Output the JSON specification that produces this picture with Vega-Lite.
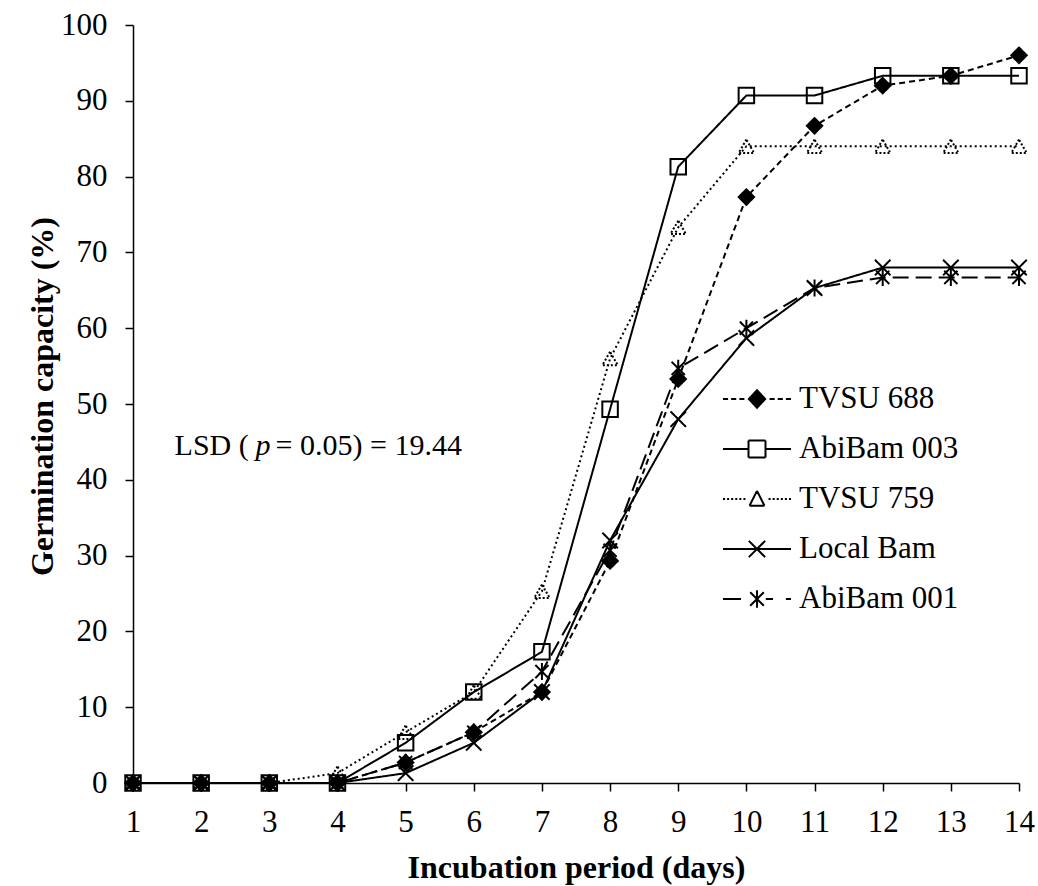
{
  "$schema": "https://vega.github.io/schema/vega-lite/v6.json",
  "width": 886,
  "height": 758,
  "autosize": {"type": "none"},
  "padding": {"left": 133, "top": 25, "right": 19, "bottom": 103},
  "background": "white",
  "config": {
    "font": "Liberation Serif",
    "view": {"stroke": null},
    "axis": {
      "grid": false,
      "domainColor": "black",
      "domainWidth": 1.5,
      "tickColor": "black",
      "tickWidth": 1.5,
      "tickSize": 8,
      "labelColor": "black",
      "labelFont": "Liberation Serif",
      "labelFontSize": 31,
      "titleColor": "black",
      "titleFont": "Liberation Serif",
      "titleFontSize": 32,
      "titleFontWeight": "bold",
      "labelFlush": false,
      "labelOverlap": false
    }
  },
  "data": {
    "values": [
      {"series": "TVSU 688", "day": 1, "value": 0},
      {"series": "TVSU 688", "day": 2, "value": 0},
      {"series": "TVSU 688", "day": 3, "value": 0},
      {"series": "TVSU 688", "day": 4, "value": 0},
      {"series": "TVSU 688", "day": 5, "value": 2.7},
      {"series": "TVSU 688", "day": 6, "value": 6.7},
      {"series": "TVSU 688", "day": 7, "value": 12},
      {"series": "TVSU 688", "day": 8, "value": 29.3},
      {"series": "TVSU 688", "day": 9, "value": 53.3},
      {"series": "TVSU 688", "day": 10, "value": 77.3},
      {"series": "TVSU 688", "day": 11, "value": 86.7},
      {"series": "TVSU 688", "day": 12, "value": 92},
      {"series": "TVSU 688", "day": 13, "value": 93.3},
      {"series": "TVSU 688", "day": 14, "value": 96},
      {"series": "AbiBam 003", "day": 1, "value": 0},
      {"series": "AbiBam 003", "day": 2, "value": 0},
      {"series": "AbiBam 003", "day": 3, "value": 0},
      {"series": "AbiBam 003", "day": 4, "value": 0},
      {"series": "AbiBam 003", "day": 5, "value": 5.3},
      {"series": "AbiBam 003", "day": 6, "value": 12},
      {"series": "AbiBam 003", "day": 7, "value": 17.3},
      {"series": "AbiBam 003", "day": 8, "value": 49.3},
      {"series": "AbiBam 003", "day": 9, "value": 81.3},
      {"series": "AbiBam 003", "day": 10, "value": 90.7},
      {"series": "AbiBam 003", "day": 11, "value": 90.7},
      {"series": "AbiBam 003", "day": 12, "value": 93.3},
      {"series": "AbiBam 003", "day": 13, "value": 93.3},
      {"series": "AbiBam 003", "day": 14, "value": 93.3},
      {"series": "TVSU 759", "day": 1, "value": 0},
      {"series": "TVSU 759", "day": 2, "value": 0},
      {"series": "TVSU 759", "day": 3, "value": 0},
      {"series": "TVSU 759", "day": 4, "value": 1.3},
      {"series": "TVSU 759", "day": 5, "value": 6.7},
      {"series": "TVSU 759", "day": 6, "value": 12},
      {"series": "TVSU 759", "day": 7, "value": 25.3},
      {"series": "TVSU 759", "day": 8, "value": 56},
      {"series": "TVSU 759", "day": 9, "value": 73.3},
      {"series": "TVSU 759", "day": 10, "value": 84},
      {"series": "TVSU 759", "day": 11, "value": 84},
      {"series": "TVSU 759", "day": 12, "value": 84},
      {"series": "TVSU 759", "day": 13, "value": 84},
      {"series": "TVSU 759", "day": 14, "value": 84},
      {"series": "Local Bam", "day": 1, "value": 0},
      {"series": "Local Bam", "day": 2, "value": 0},
      {"series": "Local Bam", "day": 3, "value": 0},
      {"series": "Local Bam", "day": 4, "value": 0},
      {"series": "Local Bam", "day": 5, "value": 1.3},
      {"series": "Local Bam", "day": 6, "value": 5.3},
      {"series": "Local Bam", "day": 7, "value": 12},
      {"series": "Local Bam", "day": 8, "value": 32},
      {"series": "Local Bam", "day": 9, "value": 48},
      {"series": "Local Bam", "day": 10, "value": 58.7},
      {"series": "Local Bam", "day": 11, "value": 65.3},
      {"series": "Local Bam", "day": 12, "value": 68},
      {"series": "Local Bam", "day": 13, "value": 68},
      {"series": "Local Bam", "day": 14, "value": 68},
      {"series": "AbiBam 001", "day": 1, "value": 0},
      {"series": "AbiBam 001", "day": 2, "value": 0},
      {"series": "AbiBam 001", "day": 3, "value": 0},
      {"series": "AbiBam 001", "day": 4, "value": 0},
      {"series": "AbiBam 001", "day": 5, "value": 2.7},
      {"series": "AbiBam 001", "day": 6, "value": 6.7},
      {"series": "AbiBam 001", "day": 7, "value": 14.7},
      {"series": "AbiBam 001", "day": 8, "value": 30.7},
      {"series": "AbiBam 001", "day": 9, "value": 54.7},
      {"series": "AbiBam 001", "day": 10, "value": 60},
      {"series": "AbiBam 001", "day": 11, "value": 65.3},
      {"series": "AbiBam 001", "day": 12, "value": 66.7},
      {"series": "AbiBam 001", "day": 13, "value": 66.7},
      {"series": "AbiBam 001", "day": 14, "value": 66.7}
    ]
  },
  "layer": [
    {
      "mark": {"type": "line", "stroke": "black", "strokeWidth": 2},
      "encoding": {
        "x": {
          "field": "day",
          "type": "quantitative",
          "scale": {"domain": [1, 14], "nice": false, "zero": false},
          "axis": {
            "values": [1, 2, 3, 4, 5, 6, 7, 8, 9, 10, 11, 12, 13, 14],
            "format": "d",
            "title": "Incubation period (days)",
            "labelBaseline": "alphabetic",
            "labelPadding": 40,
            "titleBaseline": "alphabetic",
            "titleY": 94
          }
        },
        "y": {
          "field": "value",
          "type": "quantitative",
          "scale": {"domain": [0, 100], "nice": false},
          "axis": {
            "values": [0, 10, 20, 30, 40, 50, 60, 70, 80, 90, 100],
            "format": "d",
            "title": "Germination capacity (%)",
            "labelPadding": 18,
            "labelBaseline": "middle",
            "titleAngle": -90,
            "titleBaseline": "alphabetic",
            "titleX": -81,
            "titleY": 371
          }
        },
        "detail": {"field": "series"},
        "strokeDash": {
          "field": "series",
          "type": "nominal",
          "scale": {
            "domain": ["TVSU 688", "AbiBam 003", "TVSU 759", "Local Bam", "AbiBam 001"],
            "range": [[6, 4], [1, 0], [2, 3], [1, 0], [16, 7]]
          },
          "legend": null
        }
      }
    },
    {
      "mark": {"type": "point", "filled": true, "stroke": "black", "strokeWidth": 2, "size": 240, "opacity": 1},
      "encoding": {
        "x": {"field": "day", "type": "quantitative"},
        "y": {"field": "value", "type": "quantitative"},
        "shape": {
          "field": "series",
          "type": "nominal",
          "scale": {
            "domain": ["TVSU 688", "AbiBam 003", "TVSU 759", "Local Bam", "AbiBam 001"],
            "range": [
              "diamond",
              "square",
              "triangle-up",
              "M-1,-1L1,1M-1,1L1,-1",
              "M-0.85,-0.85L0.85,0.85M-0.85,0.85L0.85,-0.85M0,-1.1V1.1"
            ]
          },
          "legend": null
        },
        "fill": {
          "field": "series",
          "type": "nominal",
          "scale": {
            "domain": ["TVSU 688", "AbiBam 003", "TVSU 759", "Local Bam", "AbiBam 001"],
            "range": ["black", "transparent", "transparent", "transparent", "transparent"]
          },
          "legend": null
        },
        "strokeDash": {
          "field": "series",
          "type": "nominal",
          "scale": {
            "domain": ["TVSU 688", "AbiBam 003", "TVSU 759", "Local Bam", "AbiBam 001"],
            "range": [[1, 0], [1, 0], [2, 2], [1, 0], [1, 0]]
          },
          "legend": null
        }
      }
    },
    {
      "transform": [{"filter": "datum.day > 100"}],
      "mark": {"type": "point", "filled": false, "stroke": "black", "strokeWidth": 2},
      "encoding": {
        "x": {"field": "day", "type": "quantitative"},
        "y": {"field": "value", "type": "quantitative"},
        "shape": {
          "field": "series",
          "type": "nominal",
          "scale": {
            "domain": ["TVSU 688", "AbiBam 003", "TVSU 759", "Local Bam", "AbiBam 001"],
            "range": [
              "M-1,0H-0.85M-0.76,0H-0.61M-0.52,0H-0.37M0.37,0H0.52M0.61,0H0.76M0.85,0H1M0,-0.26L0.24,0L0,0.26L-0.24,0ZM0,-0.2L0.18,0L0,0.2L-0.18,0ZM0,-0.14L0.12,0L0,0.14L-0.12,0ZM0,-0.08L0.06,0L0,0.08L-0.06,0ZM0,-0.03V0.03",
              "M-1,0H-0.25M0.25,0H1M-0.25,-0.25H0.25M0.25,-0.25V0.25M0.25,0.25H-0.25M-0.25,0.25V-0.25",
              "M-1,0H-0.94M-0.88,0H-0.82M-0.76,0H-0.7M-0.64,0H-0.58M-0.52,0H-0.46M-0.4,0H-0.34M0.34,0H0.4M0.46,0H0.52M0.58,0H0.64M0.7,0H0.76M0.82,0H0.88M0.94,0H1M0,-0.24L0.22,0.2M0.22,0.2H-0.22M-0.22,0.2L0,-0.24",
              "M-1,0H1M-0.24,-0.24L0.24,0.24M-0.24,0.24L0.24,-0.24",
              "M-1,0H-0.47M0.26,0H0.47M0.85,0H1M-0.2,-0.2L0.2,0.2M-0.2,0.2L0.2,-0.2M0,-0.26V0.26"
            ]
          },
          "legend": {
            "title": null,
            "orient": "none",
            "legendX": 589,
            "legendY": 339,
            "padding": 0,
            "symbolSize": 4624,
            "symbolStrokeWidth": 2,
            "symbolStrokeColor": "black",
            "symbolFillColor": "black",
            "symbolOpacity": 1,
            "labelFont": "Liberation Serif",
            "labelFontSize": 31,
            "labelColor": "black",
            "labelOffset": 7,
            "labelLimit": 400,
            "rowPadding": -17,
            "encode": {
              "symbols": {
                "update": {
                  "stroke": {"value": "black"},
                  "fill": {"value": "black"},
                  "strokeWidth": {"value": 2},
                  "opacity": {"value": 1},
                  "strokeDash": {"value": []}
                }
              }
            }
          }
        }
      }
    },
    {
      "data": {"values": [{"note": "LSD"}]},
      "mark": {"type": "text", "align": "left", "baseline": "alphabetic", "fontSize": 30, "font": "Liberation Serif", "fill": "black"},
      "encoding": {
        "x": {"datum": 1.61, "type": "quantitative"},
        "y": {"datum": 43.3, "type": "quantitative"},
        "text": {"value": "LSD ("}
      }
    },
    {
      "data": {"values": [{"note": "p"}]},
      "mark": {"type": "text", "align": "left", "baseline": "alphabetic", "fontSize": 30, "font": "Liberation Serif", "fontStyle": "italic", "dx": 81, "fill": "black"},
      "encoding": {
        "x": {"datum": 1.61, "type": "quantitative"},
        "y": {"datum": 43.3, "type": "quantitative"},
        "text": {"value": "p"}
      }
    },
    {
      "data": {"values": [{"note": "value"}]},
      "mark": {"type": "text", "align": "left", "baseline": "alphabetic", "fontSize": 30, "font": "Liberation Serif", "dx": 101, "fill": "black"},
      "encoding": {
        "x": {"datum": 1.61, "type": "quantitative"},
        "y": {"datum": 43.3, "type": "quantitative"},
        "text": {"value": "= 0.05) = 19.44"}
      }
    }
  ],
  "resolve": {
    "scale": {"shape": "independent", "strokeDash": "independent"},
    "legend": {"shape": "independent"}
  }
}
